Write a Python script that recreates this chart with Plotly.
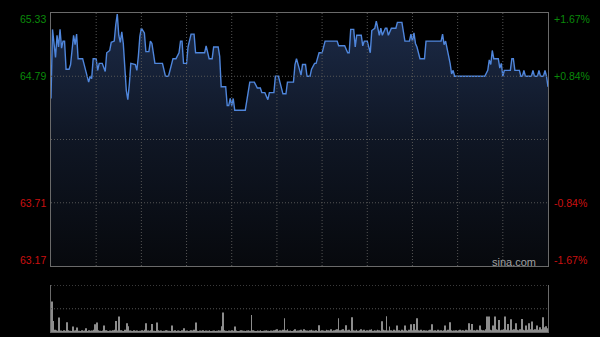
import plotly.graph_objects as go

# ---- data ----
minutes = [0, 1, 3, 4, 5, 6, 7, 8, 9, 10, 12, 13, 15, 16, 17, 18, 21, 23, 24, 25, 26, 27, 28,
           30, 31, 32, 34, 36, 37, 39, 40, 42, 43, 44, 45, 46, 47, 48, 50, 51, 52, 53, 56, 57,
           58, 59, 60, 62, 63, 65, 66, 67, 69, 74, 76, 78, 81, 83, 85, 86, 87, 88, 90, 91, 93,
           95, 96, 102, 103, 105, 107, 108, 111, 112, 113, 116, 117, 118, 119, 120, 121, 122,
           129, 131, 132, 135, 137, 139, 140, 142, 144, 145, 148, 149, 151, 152, 154, 156, 157,
           161, 162, 163, 164, 166, 167, 169, 170, 172, 173, 175, 176, 178, 180, 182, 190, 191,
           195, 197, 198, 199, 201, 202, 203, 206, 207, 208, 210, 212, 213, 215, 216, 217, 218,
           219, 220, 222, 223, 224, 226, 229, 230, 233, 235, 238, 239, 240, 241, 242, 243, 245,
           248, 249, 259, 260, 261, 262, 263, 265, 266, 267, 268, 288, 290, 291, 292, 293, 294,
           297, 298, 299, 300, 301, 305, 306, 307, 308, 311, 312, 313, 314, 315, 319, 320, 321,
           323, 324, 325, 327, 328, 329, 330]
prices = [64.60, 65.19, 64.95, 65.14, 65.04, 65.19, 65.03, 65.09, 65.09, 64.85, 64.85, 64.89,
          65.14, 65.06, 65.15, 64.94, 64.94, 64.84, 64.81, 64.74, 64.79, 64.77, 64.94,
          64.94, 64.84, 64.90, 64.90, 64.83, 64.99, 65.01, 65.08, 65.09, 65.23, 65.32, 65.14,
          65.08, 65.17, 65.07, 64.67, 64.59, 64.72, 64.90, 64.89, 64.84,
          64.96, 65.13, 65.20, 65.16, 65.00, 65.00, 65.09, 65.07, 64.90, 64.90, 64.79, 64.79,
          64.94, 64.94, 64.99, 65.09, 65.09, 64.90, 64.90, 65.04, 65.15,
          65.15, 64.99, 64.99, 65.05, 64.94, 64.94, 65.04, 65.04, 64.96, 64.70, 64.70, 64.54,
          64.54, 64.60, 64.54, 64.60, 64.50,
          64.50, 64.66, 64.74, 64.74, 64.69, 64.69, 64.65, 64.65, 64.59, 64.65, 64.65, 64.79,
          64.79, 64.74, 64.64, 64.64, 64.74,
          64.74, 64.89, 64.94, 64.90, 64.80, 64.89, 64.89, 64.79, 64.79, 64.85, 64.90, 64.90,
          64.99, 64.99, 65.09, 65.09, 65.05,
          65.05, 64.99, 64.99, 65.19, 65.19, 65.04, 65.14, 65.14, 65.05, 65.09, 65.09, 64.99,
          65.18, 65.20, 65.26, 65.20, 65.14,
          65.20, 65.14, 65.20, 65.20, 65.14, 65.20, 65.20, 65.25, 65.25, 65.09, 65.09, 65.15,
          65.09, 65.16, 65.07, 65.04, 64.94,
          64.94, 65.09, 65.09, 65.15, 65.06, 65.09, 65.03, 64.90, 64.81, 64.84, 64.79, 64.79,
          64.84, 64.93, 64.89, 65.01, 64.94,
          64.94, 64.86, 64.90, 64.79, 64.84, 64.84, 64.94, 64.94, 64.84, 64.84, 64.79, 64.79,
          64.84, 64.79, 64.79, 64.84, 64.79,
          64.79, 64.84, 64.79, 64.79, 64.84, 64.79, 64.70]

volumes = [307, 113, 25, 20, 15, 147, 18, 12, 20, 15,
           100, 20, 15, 12, 57, 18, 20, 47, 15, 12,
           20, 15, 18, 40, 12, 20, 15, 18, 25, 80,
           97, 20, 15, 12, 18, 67, 20, 15, 12, 18,
           15, 20, 25, 113, 18, 157, 20, 15, 12, 25,
           90, 60, 18, 15, 12, 20, 15, 18, 12, 15,
           20, 15, 25, 90, 18, 15, 20, 83, 15, 12,
           97, 20, 15, 18, 12, 15, 20, 18, 15, 12,
           67, 15, 20, 12, 18, 15, 12, 20, 40, 15,
           18, 12, 15, 20, 18, 25, 97, 15, 12, 18,
           15, 20, 12, 18, 15, 20, 12, 15, 18, 12,
           15, 20, 18, 60, 197, 20, 15, 12, 18, 15,
           20, 15, 57, 18, 12, 15, 20, 18, 15, 12,
           18, 20, 15, 173, 20, 15, 12, 18, 15, 20,
           12, 15, 18, 20, 15, 12, 18, 15, 20, 25,
           30, 15, 20, 18, 25, 140, 20, 30, 15, 18,
           12, 20, 30, 15, 18, 20, 25, 15, 30, 20,
           18, 15, 20, 25, 18, 15, 20, 12, 70, 15,
           20, 18, 15, 25, 20, 18, 30, 15, 20, 25,
           30, 140, 20, 25, 30, 18, 70, 20, 25, 15,
           150, 20, 18, 25, 15, 20, 30, 18, 25, 15,
           20, 18, 25, 30, 15, 20, 18, 25, 20, 15,
           110, 25, 20, 160, 18, 57, 20, 15, 25, 18,
           67, 20, 15, 25, 18, 67, 20, 15, 25, 80,
           20, 83, 25, 140, 20, 18, 25, 15, 20, 18,
           15, 20, 25, 80, 18, 20, 15, 25, 18, 20,
           15, 20, 67, 18, 25, 100, 20, 15, 18, 20,
           15, 20, 25, 18, 20, 15, 25, 20, 90, 25,
           83, 20, 18, 25, 20, 67, 25, 20, 18, 30,
           157, 157, 25, 20, 67, 157, 30, 25, 123, 20,
           25, 30, 157, 25, 83, 20, 130, 25, 30, 90,
           25, 20, 30, 133, 25, 20, 67, 25, 90, 30,
           107, 25, 30, 67, 25, 50, 30, 150, 50, 60,
           40]
vol_minutes = list(range(len(volumes)))

prev_close = 64.25
price_ticks = [65.33, 64.79, 63.71, 63.17]
price_labels = ["65.33", "64.79", "63.71", "63.17"]
pct_labels = ["+1.67%", "+0.84%", "-0.84%", "-1.67%"]
price_grid = [64.79, prev_close, 63.71]
time_grid = [30, 60, 90, 120, 150, 180, 210, 240, 270, 300]
vol_grid = [235, 470]

# ---- figure ----
FONT = "Arial, Liberation Sans, sans-serif"
GREEN = "#0a8a0a"
RED = "#cc1010"
GRID = "#555555"
FRAME = "#6a6a6a"
DOT = "1px,2px"

fig = go.Figure()
fig.add_trace(go.Scatter(
    x=minutes, y=prices, mode="lines",
    line=dict(color="#4f86dc", width=1.4),
    fill="tozeroy",
    fillgradient=dict(type="vertical", start=63.17, stop=65.33,
                      colorscale=[[0, "#07090d"], [0.5, "#0f1624"], [1, "#1c2b48"]]),
    hoverinfo="skip", xaxis="x", yaxis="y"))
fig.add_trace(go.Bar(
    x=vol_minutes, y=volumes, marker=dict(color="#8c8c8c", line=dict(width=0)),
    hoverinfo="skip", xaxis="x2", yaxis="y2"))

xd = [51 / 600, 548 / 600]
fig.update_layout(
    width=600, height=337,
    margin=dict(l=0, r=0, t=0, b=0),
    paper_bgcolor="#000000", plot_bgcolor="#000000",
    showlegend=False, bargap=0.45,
    xaxis=dict(domain=xd, range=[0, 330], showticklabels=False, ticks="",
               showgrid=False, zeroline=False, showline=True, linecolor=FRAME,
               linewidth=1, mirror=True, layer="above traces"),
    yaxis=dict(domain=[1 - 266 / 337, 1 - 13 / 337], range=[63.17, 65.33],
               showticklabels=False, ticks="", showgrid=False,
               zeroline=False, showline=True, linecolor=FRAME, linewidth=1, mirror=True,
               layer="above traces"),
    xaxis2=dict(domain=xd, range=[-0.5, 330.5], showticklabels=False, ticks="",
                showgrid=False, zeroline=False, showline=True, linecolor=FRAME,
                linewidth=1, anchor="y2"),
    yaxis2=dict(domain=[1 - 332.3 / 337, 1 - 285 / 337], range=[0, 472],
                showticklabels=False, ticks="", showgrid=False,
                zeroline=False, showline=True, linecolor=FRAME, linewidth=1,
                mirror=True, anchor="x2"),
)

for t in time_grid:
    fig.add_shape(type="line", xref="x", yref="y domain", x0=t, x1=t, y0=0, y1=1,
                  line=dict(color=GRID, width=1, dash=DOT), layer="above")
for v in price_grid:
    fig.add_shape(type="line", xref="x domain", yref="y", x0=0, x1=1, y0=v, y1=v,
                  line=dict(color=GRID, width=1, dash=DOT), layer="above")
for v in vol_grid:
    fig.add_shape(type="line", xref="x2 domain", yref="y2", x0=0, x1=1, y0=v, y1=v,
                  line=dict(color=GRID, width=1, dash=DOT), layer="above")

shifts = [-6, 0, 0, 6]
for v, lab, pct, sh in zip(price_ticks, price_labels, pct_labels, shifts):
    col = GREEN if v > prev_close else RED
    fig.add_annotation(x=48 / 600, xref="paper", y=v, yref="y", yshift=sh,
                       text=lab, showarrow=False, xanchor="right", yanchor="middle",
                       font=dict(family=FONT, size=10.5, color=col))
    fig.add_annotation(x=552 / 600, xref="paper", y=v, yref="y", yshift=sh,
                       text=pct, showarrow=False, xanchor="left", yanchor="middle",
                       font=dict(family=FONT, size=10.5, color=col))

fig.add_annotation(x=538 / 600, xref="paper", y=1 - 262 / 337, yref="paper",
                   text="sina.com", showarrow=False, xanchor="right", yanchor="middle",
                   font=dict(family=FONT, size=11, color="#a0a0a0"))

fig.write_html("out.html", config={"displayModeBar": False})
